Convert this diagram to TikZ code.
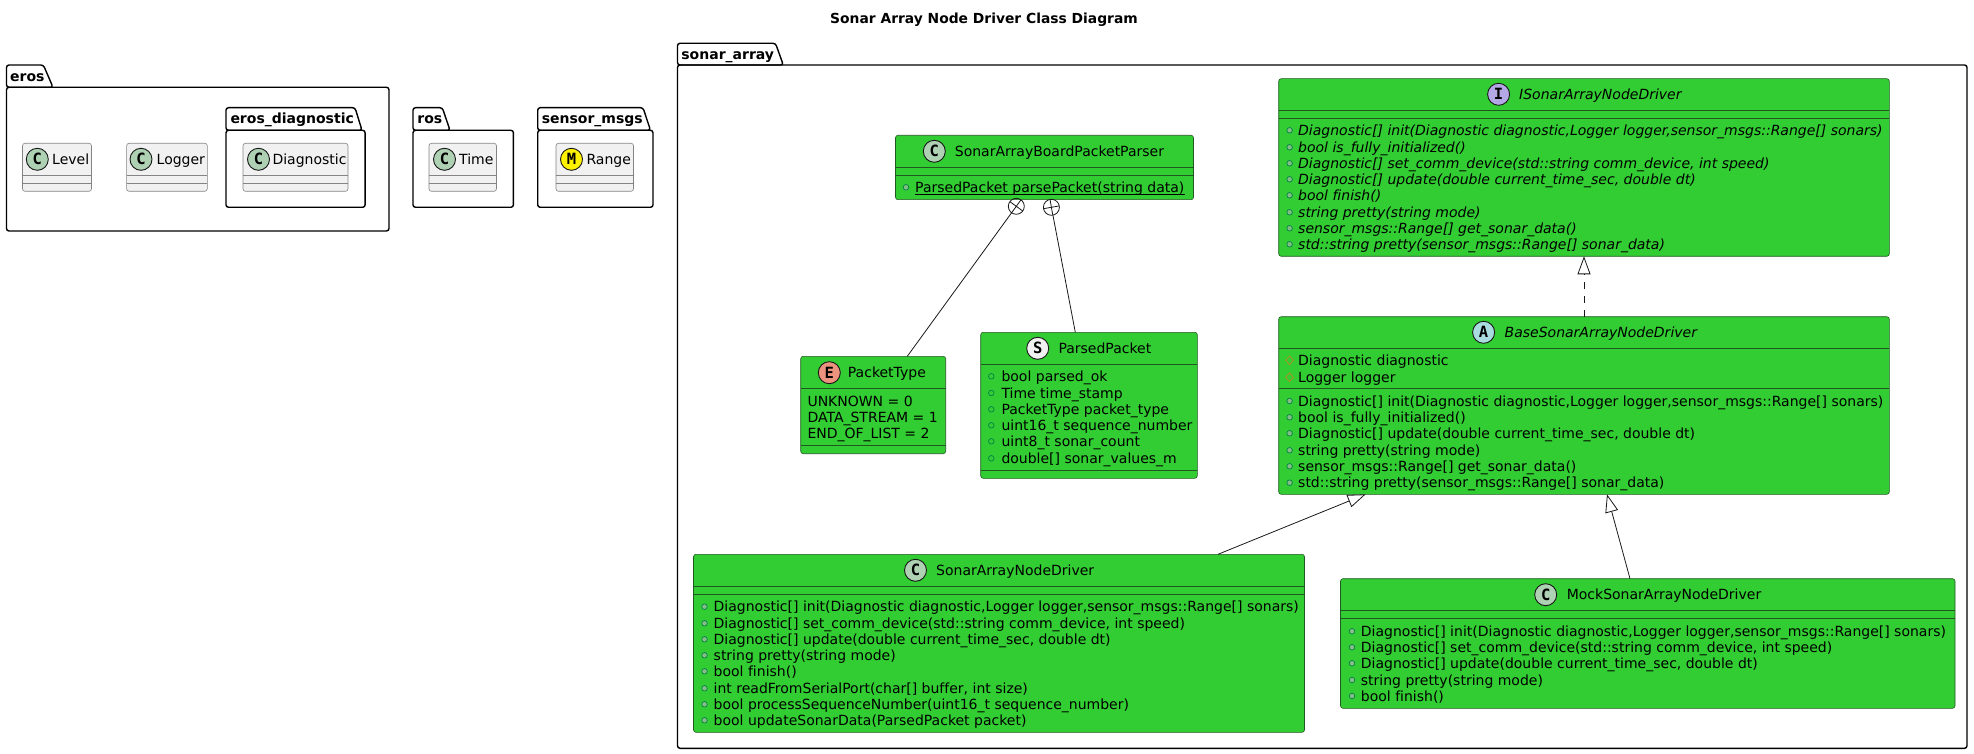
\documentclass[tikz,border=0pt]{standalone}
\usepackage{fontspec}
\setmainfont[Ligatures=CommonOff]{DejaVu Sans}
\setmonofont{DejaVu Sans Mono}
\usetikzlibrary{arrows.meta,shapes.geometric,calc}
\definecolor{limeg}{HTML}{32CD32}
\definecolor{grayf}{HTML}{F1F1F1}
\definecolor{ink}{HTML}{181818}
\definecolor{cc}{HTML}{ADD1B2}
\definecolor{ci}{HTML}{B4A7E5}
\definecolor{ca}{HTML}{A9DCDF}
\definecolor{ce}{HTML}{EB937F}
\definecolor{mfill}{HTML}{84BE84}
\definecolor{mline}{HTML}{038048}
\definecolor{pline}{HTML}{B38D22}
\newcounter{nn}
\tikzset{
  umlb/.style={line width=.6pt,rounded corners=2.5pt,inner sep=0pt,outer sep=0pt,anchor=north west},
  greenb/.style={umlb,fill=limeg,draw=ink!65!limeg},
  grayb/.style={umlb,fill=grayf,draw=ink!50!grayf},
  sepgreen/.style={draw=ink!65!limeg,line width=.6pt},
  sepgray/.style={draw=ink!50!grayf,line width=.6pt},
  hcircle/.style={circle,draw=ink,line width=.9pt,minimum size=22pt,inner sep=0pt,font=\ttfamily\bfseries\fontsize{15.5}{15.5}\selectfont},
  rowtxt/.style={anchor=base west,inner sep=0pt,font=\fontsize{14}{16}\selectfont},
  pkgtxt/.style={anchor=base west,inner sep=0pt,font=\bfseries\fontsize{14}{16}\selectfont},
  methdot/.style={circle,draw=mline,fill=mfill,line width=.7pt,minimum size=5.6pt,inner sep=0pt},
  flddot/.style={circle,draw=mline,line width=.7pt,minimum size=5.6pt,inner sep=0pt},
  prodot/.style={diamond,draw=pline,line width=.7pt,minimum width=8pt,minimum height=9pt,inner sep=0pt},
  pkg/.style={draw=black,line width=1.4pt,rounded corners=2.5pt},
  gen/.style={draw=ink,line width=.8pt,-{Triangle[open,length=18pt,width=13pt,fill=white]}},
  real/.style={gen,dash pattern=on 7pt off 7pt},
  assoc/.style={draw=ink,line width=.8pt},
  compc/.style={circle,draw=ink,line width=.8pt,minimum size=16pt,inner sep=0pt,outer sep=0pt},
}
% [style]{name}{x1}{y1}{x2}{y2}
\newcommand\umlbox[6][greenb]{\node[#1,minimum width={#5-#3},minimum height={#6-#4}] (#2) at (#3,#4) {};}
% [sepstyle]{box}{offset}
\newcommand\umlsep[3][sepgreen]{\draw[#1] ([yshift=-#3pt]#2.north west) -- ([yshift=-#3pt]#2.north east);}
% {cx}{cy}{fill}{letter}{textx}{text}
\newcommand\umlhead[6]{\stepcounter{nn}\node[hcircle,fill=#3] (hc\arabic{nn}) at (#1,#2) {#4};
  \node[rowtxt] (ht\arabic{nn}) at (#5,#2+5) {#6};}
% {dotx}{textx}{y}{text}
\newcommand\umlm[4]{\stepcounter{nn}\node[methdot] (md\arabic{nn}) at (#1,#3) {};\node[rowtxt] (mt\arabic{nn}) at (#2,#3+5) {#4};}
\newcommand\umlf[4]{\stepcounter{nn}\node[flddot] (fd\arabic{nn}) at (#1,#3) {};\node[rowtxt] (ft\arabic{nn}) at (#2,#3+5) {#4};}
\newcommand\umlp[4]{\stepcounter{nn}\node[prodot] (pd\arabic{nn}) at (#1,#3) {};\node[rowtxt] (pt\arabic{nn}) at (#2,#3+5) {#4};}
% {x}{y}{text}
\newcommand\umlt[3]{\stepcounter{nn}\node[rowtxt] (et\arabic{nn}) at (#1,#2+5) {#3};}
% {left}{tabtop}{tabtopright}{tabbotright}{bodytop}{right}{bottom}{label}{labelx}
\newcommand\umlpkg[9]{\stepcounter{nn}
  \draw[pkg] (#1,#5) -- (#1,#2) -- (#3,#2) -- (#4,#5) -- cycle;
  \draw[pkg] (#1,#5) -- (#6,#5) -- (#6,#7) -- (#1,#7) -- cycle;
  \node[pkgtxt] (pk\arabic{nn}) at (#9,{(#2+#5)/2+5}) {#8};}
\begin{document}
\begin{tikzpicture}[x=1pt,y=-1pt]
\useasboundingbox (0,0) rectangle (1974,754);
\node[anchor=base,inner sep=0pt,font=\bfseries\fontsize{13.85}{16}\selectfont] (title) at (984,24) {Sonar Array Node Driver Class Diagram};

% packages
\umlpkg{6.5}{65}{43.4}{53}{87.3}{389}{231}{eros}{10}
\umlpkg{226}{107.7}{355}{362}{130.3}{365.1}{207.3}{eros\_diagnostic}{230.3}
\umlpkg{413}{107.7}{442.3}{450}{130.3}{513.4}{207.3}{ros}{417.2}
\umlpkg{537.7}{107.7}{643}{650.5}{130.3}{653}{207.3}{sensor\_msgs}{541.6}
\umlpkg{677.5}{43.3}{775.5}{783.3}{65}{1967}{748.3}{sonar\_array}{681.2}

% gray classes
\umlbox[grayb]{level}{22.5}{143.3}{91.5}{191.3}
\umlbox[grayb]{logger}{126.6}{143.3}{207.3}{191.3}
\umlbox[grayb]{diag}{243}{143.3}{348}{191.3}
\umlbox[grayb]{time}{429}{143.3}{496.5}{191.3}
\umlbox[grayb]{range}{556}{143.3}{633.5}{191.3}
\foreach \b in {level,logger,diag,time,range}{\umlsep[sepgray]{\b}{32}\umlsep[sepgray]{\b}{40}}
\umlhead{37.3}{159.3}{cc}{C}{52}{Level}
\umlhead{141}{159.3}{cc}{C}{156.5}{Logger}
\umlhead{258.5}{159.3}{cc}{C}{272.3}{Diagnostic}
\umlhead{444.5}{159.3}{cc}{C}{459}{Time}
\umlhead{571.5}{159.3}{yellow}{M}{586.3}{Range}

% ISonarArrayNodeDriver
\umlbox{iface}{1278.7}{78.7}{1889.3}{256.3}
\umlsep{iface}{31.6}\umlsep{iface}{39.6}
\umlhead{1498.6}{94.3}{ci}{I}{1519}{\itshape ISonarArrayNodeDriver}
\umlm{1289.6}{1298}{130.3}{\itshape Diagnostic[] init(Diagnostic diagnostic,Logger logger,sensor\_msgs::Range[] sonars)}
\umlm{1289.6}{1298}{147.3}{\itshape bool is\_fully\_initialized()}
\umlm{1289.6}{1298}{163.3}{\itshape Diagnostic[] set\_comm\_device(std::string comm\_device, int speed)}
\umlm{1289.6}{1298}{179.3}{\itshape Diagnostic[] update(double current\_time\_sec, double dt)}
\umlm{1289.6}{1298}{195.3}{\itshape bool finish()}
\umlm{1289.6}{1298}{212.3}{\itshape string pretty(string mode)}
\umlm{1289.6}{1298}{228.3}{\itshape sensor\_msgs::Range[] get\_sonar\_data()}
\umlm{1289.6}{1298}{244.3}{\itshape std::string pretty(sensor\_msgs::Range[] sonar\_data)}

% BaseSonarArrayNodeDriver
\umlbox{base}{1278.7}{316.7}{1889.3}{494.3}
\umlsep{base}{31.6}\umlsep{base}{72}
\umlhead{1483.6}{332.3}{ca}{A}{1504.5}{\itshape BaseSonarArrayNodeDriver}
\umlp{1289.6}{1298}{360.3}{Diagnostic diagnostic}
\umlp{1289.6}{1298}{377.3}{Logger logger}
\umlm{1289.6}{1298}{401}{Diagnostic[] init(Diagnostic diagnostic,Logger logger,sensor\_msgs::Range[] sonars)}
\umlm{1289.6}{1298}{417.3}{bool is\_fully\_initialized()}
\umlm{1289.6}{1298}{433.3}{Diagnostic[] update(double current\_time\_sec, double dt)}
\umlm{1289.6}{1298}{450.3}{string pretty(string mode)}
\umlm{1289.6}{1298}{466.3}{sensor\_msgs::Range[] get\_sonar\_data()}
\umlm{1289.6}{1298}{482.7}{std::string pretty(sensor\_msgs::Range[] sonar\_data)}

% SonarArrayBoardPacketParser
\umlbox{parser}{895.5}{135.3}{1193.5}{199.7}
\umlsep{parser}{32}\umlsep{parser}{40}
\umlhead{934.3}{151.3}{cc}{C}{954.7}{SonarArrayBoardPacketParser}
\node[methdot] (parsedot) at (906,187.3) {};
\node[rowtxt] (parsem) at (915,192.3) {ParsedPacket parsePacket(string data)};
\draw[line width=.8pt] ([yshift=-2pt]parsem.base west) -- ([yshift=-2pt]parsem.base east);

% PacketType
\umlbox{ptype}{800.7}{356.3}{945.7}{453.7}
\umlsep{ptype}{32.4}\umlsep{ptype}{89}
\umlhead{829.3}{372.7}{ce}{E}{847.7}{PacketType}
\umlt{807.3}{401}{UNKNOWN = 0}
\umlt{807.3}{417.3}{DATA\_STREAM = 1}
\umlt{807.3}{433.3}{END\_OF\_LIST = 2}

% ParsedPacket
\umlbox{parsed}{980.7}{332.3}{1197.3}{478.3}
\umlsep{parsed}{32}\umlsep{parsed}{138}
\umlhead{1037.7}{348.3}{grayf}{S}{1058.3}{ParsedPacket}
\umlf{991.3}{1001.3}{376.3}{bool parsed\_ok}
\umlf{991.3}{1001.3}{393}{Time time\_stamp}
\umlf{991.3}{1001.3}{409.3}{PacketType packet\_type}
\umlf{991.3}{1001.3}{425.3}{uint16\_t sequence\_number}
\umlf{991.3}{1001.3}{441.3}{uint8\_t sonar\_count}
\umlf{991.3}{1001.3}{458.3}{double[] sonar\_values\_m}

% SonarArrayNodeDriver
\umlbox{snd}{693.5}{554.3}{1304.5}{732.3}
\umlsep{snd}{32}\umlsep{snd}{40}
\umlhead{915.5}{570.3}{cc}{C}{936}{SonarArrayNodeDriver}
\umlm{704.5}{713.5}{606.7}{Diagnostic[] init(Diagnostic diagnostic,Logger logger,sensor\_msgs::Range[] sonars)}
\umlm{704.5}{713.5}{623.3}{Diagnostic[] set\_comm\_device(std::string comm\_device, int speed)}
\umlm{704.5}{713.5}{639.3}{Diagnostic[] update(double current\_time\_sec, double dt)}
\umlm{704.5}{713.5}{655.3}{string pretty(string mode)}
\umlm{704.5}{713.5}{671.3}{bool finish()}
\umlm{704.5}{713.5}{688.3}{int readFromSerialPort(char[] buffer, int size)}
\umlm{704.5}{713.5}{704.3}{bool processSequenceNumber(uint16\_t sequence\_number)}
\umlm{704.5}{713.5}{720.3}{bool updateSonarData(ParsedPacket packet)}

% MockSonarArrayNodeDriver
\umlbox{mock}{1340.5}{578.7}{1955}{708.3}
\umlsep{mock}{31.6}\umlsep{mock}{39.6}
\umlhead{1545.7}{594.7}{cc}{C}{1566.6}{MockSonarArrayNodeDriver}
\umlm{1352}{1360.7}{631.3}{Diagnostic[] init(Diagnostic diagnostic,Logger logger,sensor\_msgs::Range[] sonars)}
\umlm{1352}{1360.7}{647.3}{Diagnostic[] set\_comm\_device(std::string comm\_device, int speed)}
\umlm{1352}{1360.7}{663.3}{Diagnostic[] update(double current\_time\_sec, double dt)}
\umlm{1352}{1360.7}{680}{string pretty(string mode)}
\umlm{1352}{1360.7}{696}{bool finish()}

% connectors
\draw[real] ([xshift=305.3pt]base.north west) -- ([xshift=305.3pt]iface.south west);
\draw[gen] ([xshift=524.5pt]snd.north west) -- ([xshift=86.9pt]base.south west);
\draw[gen] ([xshift=289.5pt]mock.north west) -- ([xshift=328.3pt]base.south west);
\node[compc] (c1) at (1016.3,206.3) {};
\node[compc] (c2) at (1051.4,207.3) {};
\draw[assoc] (c1.54) -- (c1.234) (c1.144) -- (c1.324);
\draw[assoc] (c2.100.8) -- (c2.280.8) (c2.10.8) -- (c2.190.8);
\draw[assoc] (c1) -- ([xshift=106.6pt]ptype.north west);
\draw[assoc] (c2) -- ([xshift=94.6pt]parsed.north west);
\end{tikzpicture}
\end{document}
